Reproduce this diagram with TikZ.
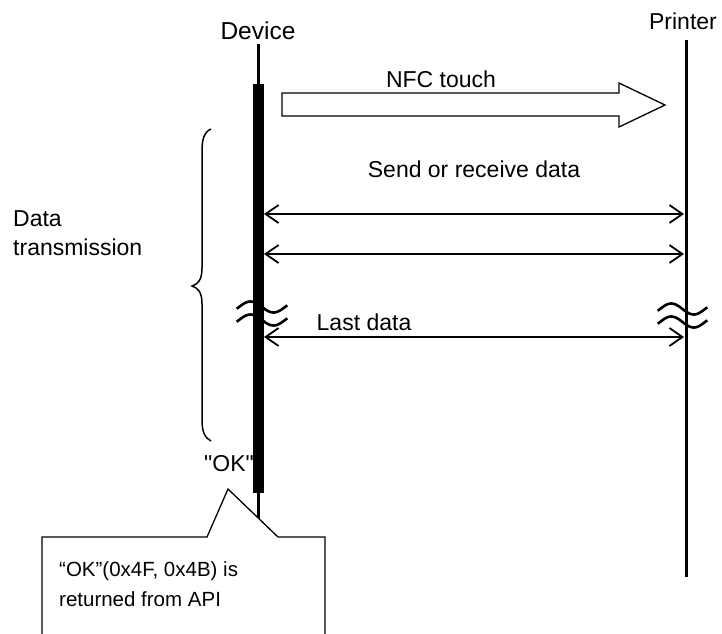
\documentclass[tikz,border=0pt]{standalone}
\usepackage{fontspec}
\setmainfont{Liberation Sans}[Ligatures=TeXOff]
\usetikzlibrary{arrows.meta}
\tikzset{
  lbl/.style={font=\fontsize{23}{27}\selectfont, inner sep=0pt, anchor=base},
  note/.style={font=\fontsize{20.5}{25}\selectfont, inner sep=0pt, anchor=base west},
  barb/.tip={Straight Barb[length=13pt,width=18pt,line width=1.8pt]},
  msg/.style={line width=1.8pt, barb-barb},
  wave/.style={line width=2.6pt},
  lifeline/.style={line width=3pt},
}
\begin{document}
\begin{tikzpicture}[x=1pt,y=-1pt]
\useasboundingbox (0,0) rectangle (722,633);
\fill[white] (0,0) rectangle (722,633);

% Device lifeline
\node[lbl, font=\fontsize{24.5}{28}\selectfont] (dev) at (258,39) {Device};
\coordinate (devtop) at (258.5,44);
\coordinate (devbot) at (258.5,520);
\draw[lifeline] (devtop) -- (devbot);
\fill (253,84) rectangle (264,493);

% Printer lifeline
\node[lbl] (prn) at (683,29) {Printer};
\coordinate (prntop) at (686,40);
\coordinate (prnbot) at (686,577);
\draw[lifeline] (prntop) -- (prnbot);

% NFC touch block arrow
\draw[line width=1.3pt, fill=white] (282,93) -- (619,93) -- (619,83) -- (665,105) -- (619,127) -- (619,116) -- (282,116) -- cycle;
\node[lbl] (nfc) at (441,87) {NFC touch};

% Messages
\node[lbl] (send) at (474,177) {Send or receive data};
\coordinate (a1l) at (264,214); \coordinate (a1r) at (684,214);
\coordinate (a2l) at (264,254); \coordinate (a2r) at (684,254);
\coordinate (a3l) at (264,337); \coordinate (a3r) at (684,337);
\draw[msg] (a1l) -- (a1r);
\draw[msg] (a2l) -- (a2r);
\draw[msg] (a3l) -- (a3r);
\node[lbl] (last) at (364,330) {Last data};

% Break marks
\foreach \yc in {307,320} {
  \draw[wave] plot[domain=-0.05:1.05,samples=40,smooth] ({239+46*\x},{\yc-5.5*sin(360*\x)});
}
\foreach \yc in {309,322} {
  \draw[wave] plot[domain=-0.05:1.05,samples=40,smooth] ({660+45*\x},{\yc-5.5*sin(360*\x)});
}

% Brace
\draw[line width=1.5pt] (211,129) .. controls (204,132) and (202,140) .. (202,150) -- (202,268)
  .. controls (202,280) and (198,284) .. (192,286)
  .. controls (198,288) and (202,292) .. (202,304) -- (202,420)
  .. controls (202,432) and (205,438) .. (211,441);
\node[lbl, anchor=base west] (data1) at (13,226) {Data};
\node[lbl, anchor=base west] (data2) at (13,255) {transmission};

% OK
\node[lbl] (ok) at (229,471) {"OK"};

% Callout
\draw[line width=1.3pt, fill=white] (42,634) -- (42,537) -- (207,537) -- (228,489) -- (278,537) -- (325,537) -- (325,634);
\node[note] (n1) at (59,576) {“OK”(0x4F, 0x4B) is};
\node[note] (n2) at (59,606) {returned from API};
\end{tikzpicture}
\end{document}
